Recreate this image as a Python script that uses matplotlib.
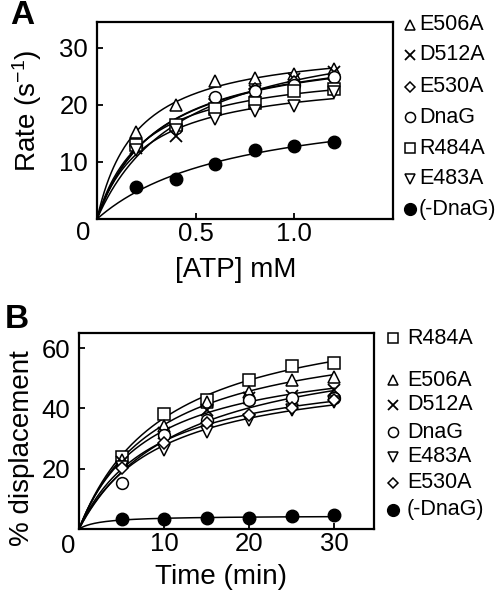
import numpy as np
import matplotlib
matplotlib.use("Agg")
import matplotlib.pyplot as plt
from matplotlib.lines import Line2D

# -----------------------------
# Data
# -----------------------------
atp_mm = [0.2, 0.4, 0.6, 0.8, 1.0, 1.2]
rate_labels = ["E506A", "D512A", "E530A", "DnaG", "R484A", "E483A", "(-DnaG)"]
rate_e506a = [15.3, 20.0, 24.1, 24.7, 25.4, 26.3]
rate_d512a = [12.5, 14.5, 20.5, 22.5, 24.5, 25.7]
rate_e530a = [12.8, 16.5, 21.0, 22.8, 24.0, 24.5]
rate_dnag = [13.0, 16.0, 21.3, 22.5, 23.5, 24.8]
rate_r484a = [13.0, 16.5, 19.3, 20.3, 22.5, 22.8]
rate_e483a = [12.0, 15.5, 17.5, 19.0, 19.8, 22.3]
rate_no_dnag = [5.6, 7.0, 9.6, 12.0, 12.8, 13.5]

time_min = [5, 10, 15, 20, 25, 30]
disp_labels = ["R484A", "E506A", "D512A", "DnaG", "E483A", "E530A", "(-DnaG)"]
disp_r484a = [24.0, 38.1, 42.8, 49.4, 54.2, 55.0]
disp_e506a = [23.0, 34.2, 42.2, 45.5, 49.4, 50.5]
disp_d512a = [22.3, 31.8, 39.5, 43.4, 44.1, 46.1]
disp_dnag = [15.4, 31.2, 36.2, 42.8, 43.4, 43.4]
disp_e483a = [20.7, 26.2, 32.3, 36.2, 39.5, 42.2]
disp_e530a = [20.2, 28.5, 35.2, 37.8, 40.1, 42.8]
disp_no_dnag = [3.2, 3.4, 3.5, 3.6, 4.2, 4.5]

# marker style per mutant
MARK = {
    "E506A": "^", "D512A": "x", "E530A": "D", "DnaG": "o",
    "R484A": "s", "E483A": "v", "(-DnaG)": "o",
}
MSIZE = {"^": 9, "x": 8, "D": 6.5, "o": 8.5, "s": 8.5, "v": 9}

plt.rcParams["font.family"] = ["Liberation Sans", "DejaVu Sans"]
plt.rcParams["mathtext.default"] = "regular"

W, H = 503, 600
fig = plt.figure(figsize=(W / 100, H / 100), dpi=100)


def fx(x):
    return x / W


def fy(y):
    return 1 - y / H


def hyper_fit(x, y):
    # simple hyperbolic fit y = vmax*x/(k+x), grid search on k
    x = np.asarray(x, float)
    y = np.asarray(y, float)
    best = None
    for k in np.linspace(x.max() * 0.005, x.max() * 5, 4000):
        f = x / (k + x)
        vmax = (y * f).sum() / (f * f).sum()
        err = ((vmax * f - y) ** 2).sum()
        if best is None or err < best[0]:
            best = (err, vmax, k)
    return best[1], best[2]


def draw_series(ax, x, y, label, xmax):
    vmax, k = hyper_fit(x, y)
    xs = np.linspace(0, xmax, 200)
    ax.plot(xs, vmax * xs / (k + xs), color="black", lw=1.1, zorder=2)
    m = MARK[label]
    if label == "(-DnaG)":
        ax.plot(x, y, ls="none", marker="o", ms=9, mfc="black",
                mec="black", zorder=3)
    elif m == "x":
        ax.plot(x, y, ls="none", marker="x", ms=MSIZE[m], mec="black",
                mew=1.3, zorder=3)
    else:
        ax.plot(x, y, ls="none", marker=m, ms=MSIZE[m], mfc="white",
                mec="black", mew=1.1, zorder=3)


def style_axes(ax):
    for s in ax.spines.values():
        s.set_linewidth(1.6)
    ax.tick_params(direction="in", length=4, width=1.3, labelsize=18.5)
    ax.tick_params(axis="x", pad=2.5)
    ax.tick_params(axis="y", pad=6.5)


def side_legend(labels, ys, mx, tx):
    for lab, y in zip(labels, ys):
        m = MARK[lab]
        if lab == "(-DnaG)":
            kw = dict(marker="o", ms=8.5, mfc="black", mec="black")
        elif m == "x":
            kw = dict(marker="x", ms=7.5, mec="black", mew=1.3)
        else:
            kw = dict(marker=m, ms=MSIZE[m] * 0.85, mfc="white",
                      mec="black", mew=1.1)
        fig.add_artist(Line2D([fx(mx)], [fy(y)], ls="none",
                              transform=fig.transFigure, **kw))
        fig.text(fx(tx), fy(y), lab, fontsize=15.5, ha="left", va="center")


# -----------------------------
# Panel A: rate vs ATP
# -----------------------------
axA = fig.add_axes([fx(97), fy(219), fx(393) - fx(97), fy(22) - fy(219)])
rate_series = [rate_e506a, rate_d512a, rate_e530a, rate_dnag,
               rate_r484a, rate_e483a, rate_no_dnag]
for lab, ys in zip(rate_labels, rate_series):
    draw_series(axA, atp_mm, ys, lab, 1.2)
axA.set_xlim(0, 1.5)
axA.set_ylim(0, 34.5)
axA.set_xticks([0.5, 1.0])
axA.set_xticklabels(["0.5", "1.0"])
axA.set_yticks([10, 20, 30])
style_axes(axA)
fig.text(fx(83), fy(233), "0", fontsize=18.5, ha="center", va="center")
fig.text(fx(236), fy(270), "[ATP] mM", fontsize=20, ha="center", va="center")
fig.text(fx(27), fy(111), "Rate (s$^{-1}$)", fontsize=20, rotation=90,
         ha="center", va="center")
fig.text(fx(22), fy(16), "A", fontsize=24, fontweight="bold",
         ha="center", va="center")
side_legend(rate_labels, [25, 55, 87, 117, 148, 179, 209], 410, 419)

# -----------------------------
# Panel B: % displacement vs time
# -----------------------------
axB = fig.add_axes([fx(79), fy(529), fx(374) - fx(79), fy(333) - fy(529)])
disp_series = [disp_r484a, disp_e506a, disp_d512a, disp_dnag,
               disp_e483a, disp_e530a, disp_no_dnag]
for lab, ys in zip(disp_labels, disp_series):
    draw_series(axB, time_min, ys, lab, 30)
axB.set_xlim(0, 34.7)
axB.set_ylim(0, 65)
axB.set_xticks([10, 20, 30])
axB.set_yticks([20, 40, 60])
style_axes(axB)
fig.text(fx(68), fy(546), "0", fontsize=18.5, ha="center", va="center")
fig.text(fx(221), fy(577), "Time (min)", fontsize=20, ha="center", va="center")
fig.text(fx(22), fy(448), "% displacement", fontsize=20, rotation=90,
         ha="center", va="center")
fig.text(fx(17), fy(319), "B", fontsize=24, fontweight="bold",
         ha="center", va="center")
side_legend(disp_labels, [338, 380, 405, 432, 457, 483, 510], 393, 407)

fig.savefig("out.png", dpi=100)
